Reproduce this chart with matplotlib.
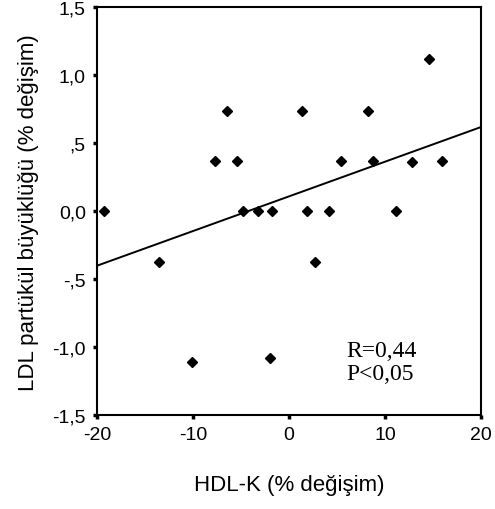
import numpy as np
import matplotlib
matplotlib.use("Agg")
import matplotlib.pyplot as plt

plt.rcParams["axes.unicode_minus"] = False

# HDL-K change (%) and LDL particle size change (%)
hdl_change = [-19.3, -13.5, -10.1, -7.7, -6.5, -5.4, -4.8, -3.2, -1.8, -2.0,
              1.35, 1.9, 2.7, 4.2, 5.4, 8.2, 8.75, 11.15, 12.8, 14.6, 15.9]
ldl_change = [0.0, -0.375, -1.11, 0.37, 0.74, 0.37, 0.0, 0.0, 0.0, -1.08,
              0.74, 0.0, -0.375, 0.0, 0.37, 0.74, 0.37, 0.0, 0.36, 1.12, 0.37]

x_ticks = [-20, -10, 0, 10, 20]
y_ticks = [-1.5, -1.0, -0.5, 0.0, 0.5, 1.0, 1.5]
y_tick_labels = ["-1,5", "-1,0", "-,5", "0,0", ",5", "1,0", "1,5"]

stats_text = "R=0,44\nP<0,05"

fig = plt.figure(figsize=(4.95, 5.10), dpi=100)
ax = fig.add_axes([0.196, 0.184, 0.776, 0.800])

ax.plot(hdl_change, ldl_change, linestyle="none", marker="D",
        markersize=5.2, color="black", clip_on=False, zorder=3)

# least-squares fit line across the full x range
slope, intercept = np.polyfit(hdl_change, ldl_change, 1)
xs = np.array([-20, 20])
ax.plot(xs, intercept + slope * xs, color="black", linewidth=1.4)

ax.set_xlim(-20, 20)
ax.set_ylim(-1.5, 1.5)
ax.set_xticks(x_ticks)
ax.set_yticks(y_ticks)
ax.set_yticklabels(y_tick_labels)

sans = "Liberation Sans"
for lbl in ax.get_xticklabels() + ax.get_yticklabels():
    lbl.set_fontfamily(sans)
    lbl.set_fontsize(14)
ax.tick_params(direction="out", length=3, width=2.5, pad=5)

for sp in ax.spines.values():
    sp.set_linewidth(1.5)

ax.set_xlabel("HDL-K (% değişim)", fontfamily=sans, fontsize=16, labelpad=22)
ax.set_ylabel("LDL partükül büyüklüğü (% değişim)", fontfamily=sans,
              fontsize=16, labelpad=10)

ax.text(6.0, -1.11, stats_text, fontfamily="Liberation Serif", fontsize=17,
        va="center", ha="left", linespacing=1.1)

fig.savefig("out.png", dpi=100)
